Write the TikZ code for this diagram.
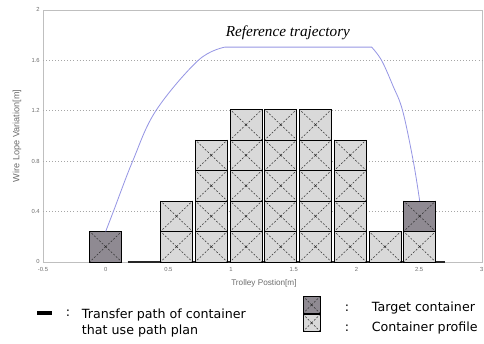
\documentclass[tikz,border=0pt]{standalone}
\usepackage{fontspec}
\setmainfont{Liberation Serif}
\setsansfont{Liberation Sans}
\newfontfamily\legendfont{DejaVu Sans}
\definecolor{targetgray}{RGB}{143,138,146}
\definecolor{trajblue}{RGB}{150,150,228}
\tikzset{
	container/.style={rectangle, draw=black, line width=0.5pt, fill=gray!30, minimum width=0.96cm, minimum height=0.915cm, inner sep=0pt, outer sep=0pt,
		path picture={
			\foreach \corner in {north west,north east,south west,south east}
				\draw[boxcross] (path picture bounding box.center) -- (path picture bounding box.\corner);
			\fill[gray!30!black] (path picture bounding box.center) circle (0.5pt);
		}},
	target/.style={container, fill=targetgray},
	boxcross/.style={gray!40!black, line width=0.45pt, dash pattern=on 1.6pt off 1.4pt},
	ticklabel/.style={font=\sffamily\fontsize{5}{6}\selectfont, text=gray!85!black, inner sep=1pt},
	axislabel/.style={font=\sffamily\fontsize{7}{8}\selectfont, text=gray!85!black},
	legendtext/.style={font=\legendfont\fontsize{10.8}{13.5}\selectfont, inner sep=0pt}
}

\begin{document}
\begin{tikzpicture}[x=3.762cm, y=3.78cm]
	\useasboundingbox (-0.843,-0.651) rectangle (3.017,2.079);

	\draw[gray!50, line width=0.5pt] (-0.5,0) rectangle (3,2);
	\foreach \y in {0.4,0.8,1.2,1.6}
		\draw[gray!70, dotted, line width=0.6pt] (-0.5,\y) -- (3,\y);

	\foreach \y [count=\i] in {0,0.4,0.8,1.2,1.6,2}
		\node[ticklabel, anchor=east] (ytick\i) at (-0.515,\y) {\y};
	\foreach \x [count=\i] in {-0.5,0,0.5,1,1.5,2,2.5,3}
		\node[ticklabel] (xtick\i) at (\x,-0.063) {\x};

	\node[axislabel, rotate=90, font=\sffamily\fontsize{7.8}{8}\selectfont] (ylabel) at (-0.707,1.0) {Wire Lope Variation[m]};
	\node[axislabel] (xlabel) at (1.262,-0.167) {Trolley Postion[m]};

	% containers
	\draw[gray!30!black, line width=1pt] (0.175,0) -- (2.706,0);
	\node[target] (tgtstart) at (0,0.121) {};
	\foreach \c/\n [count=\i] in {0.565/2,0.842/4,1.119/5,1.396/5,1.673/5,1.95/4,2.227/1,2.504/1}
		\foreach \k in {1,...,\n}
			\node[container] (box\i-\k) at (\c,{(\k-0.5)*0.242}) {};
	\node[target] (tgtend) at (2.504,0.363) {};
	\draw[black, line width=1.2pt] (box5-5.north east) -- (box5-1.south east);

	\draw[trajblue, line width=0.7pt] plot[smooth, tension=0.6] coordinates {(tgtstart.north) (0.061,0.4) (0.215,0.8) (0.40,1.2) (0.738,1.6) (0.951,1.705)}
		-- plot[smooth, tension=0.6] coordinates {(2.121,1.705) (2.2,1.6) (2.29,1.4) (2.368,1.2) (2.453,0.8) (tgtend.north)};
	\node[font=\itshape\fontsize{13}{15}\selectfont] (reftraj) at (1.453,1.815) {Reference trajectory};

	% legend
	\draw[black, line width=3pt] (-0.545,-0.407) -- (-0.431,-0.407);
	\node[legendtext] (colon1) at (-0.301,-0.41) {:};
	\node[legendtext, anchor=north west, align=left] (pathtext) at (-0.191,-0.37) {Transfer path of container\\that use path plan};

	\node[target, minimum width=0.51cm, minimum height=0.51cm] (legtarget) at (1.642,-0.341) {};
	\node[container, minimum width=0.51cm, minimum height=0.51cm] (legprofile) at (1.642,-0.484) {};
	\node[legendtext] (colon2) at (1.924,-0.365) {:};
	\node[legendtext] (colon3) at (1.924,-0.524) {:};
	\node[legendtext, anchor=west] (targettext) at (2.121,-0.365) {Target container};
	\node[legendtext, anchor=west] (profiletext) at (2.121,-0.524) {Container profile};
\end{tikzpicture}
\end{document}
